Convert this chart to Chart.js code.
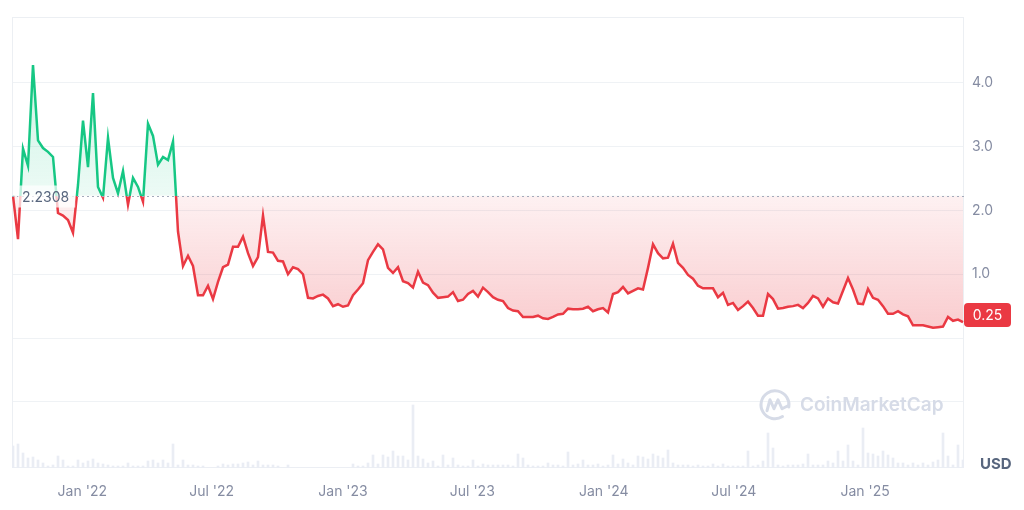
<!DOCTYPE html>
<html>
<head>
<meta charset="utf-8">
<script src="https://cdn.jsdelivr.net/npm/chart.js@4/dist/chart.umd.min.js"></script>
<style>
  html, body { margin: 0; padding: 0; background: #ffffff; }
  #wrap { width: 1024px; height: 510px; }
</style>
</head>
<body>
<div id="wrap"><canvas id="c" width="1024" height="510"></canvas></div>
<script>
// ---------- DATA ----------
const startDate = '2021-09-26';      // date of first weekly point
const stepDays = 7;                  // weekly samples
const baselinePrice = 2.2308;
const lastPriceLabel = '0.25';
const currencyLabel = 'USD';
const watermarkText = 'CoinMarketCap';

const prices = [
  2.2308,1.55,2.97,2.7,4.28,3.1,2.98,2.92,2.84,1.96,
  1.92,1.85,1.65,2.4,3.41,2.68,3.84,2.37,2.2,3.14,
  2.51,2.27,2.62,2.09,2.51,2.37,2.14,3.36,3.17,2.72,
  2.84,2.79,3.08,1.67,1.13,1.29,1.13,0.67,0.67,0.82,
  0.61,0.88,1.11,1.15,1.43,1.43,1.59,1.33,1.13,1.27,
  1.92,1.35,1.34,1.21,1.2,1.0,1.11,1.08,1.0,0.63,
  0.62,0.66,0.68,0.62,0.5,0.53,0.49,0.51,0.67,0.76,
  0.86,1.22,1.35,1.47,1.39,1.1,1.02,1.11,0.89,0.86,
  0.79,1.04,0.87,0.83,0.71,0.63,0.64,0.65,0.72,0.58,
  0.6,0.69,0.74,0.65,0.79,0.72,0.64,0.6,0.58,0.47,
  0.43,0.42,0.33,0.33,0.33,0.35,0.31,0.3,0.33,0.37,
  0.38,0.46,0.45,0.45,0.46,0.49,0.42,0.45,0.47,0.4,
  0.69,0.72,0.8,0.7,0.74,0.78,0.76,1.1,1.47,1.33,
  1.25,1.26,1.48,1.18,1.1,0.99,0.93,0.82,0.78,0.78,
  0.78,0.64,0.71,0.52,0.55,0.44,0.5,0.57,0.47,0.35,
  0.35,0.69,0.61,0.46,0.47,0.49,0.5,0.52,0.47,0.55,
  0.66,0.62,0.49,0.62,0.56,0.54,0.74,0.94,0.76,0.54,
  0.53,0.77,0.63,0.6,0.5,0.38,0.38,0.42,0.37,0.34,
  0.2,0.2,0.2,0.18,0.16,0.17,0.18,0.33,0.27,0.29,
  0.25
];

// relative trading volume (arbitrary units)
const volumes = [
  22,24,15,10,11,8,5,2,3,12,
  8,2,2,8,5,7,9,5,4,3,
  2,2,2,5,2,2,2,7,8,5,
  8,5,24,3,8,3,3,2,2,0,
  0,2,4,3,4,4,5,6,3,7,
  3,3,3,2,0,3,0,0,0,0,
  0,0,0,0,0,0,0,0,4,2,
  2,5,13,4,13,11,17,12,12,8,
  63,12,9,5,7,2,13,3,10,3,
  2,2,8,2,4,3,3,3,3,3,
  2,14,10,3,2,2,2,5,3,3,
  2,16,3,4,8,3,3,4,2,3,
  13,4,9,5,3,12,11,9,14,12,
  10,18,5,3,3,3,2,3,2,2,
  4,2,4,2,2,2,2,17,2,3,
  7,35,20,3,2,3,3,3,4,14,
  3,3,3,7,5,17,7,23,7,3,
  40,15,14,12,17,13,10,5,5,3,
  5,3,5,3,6,8,35,12,3,23,
  8
];

const tickDates  = ['2022-01-01','2022-07-01','2023-01-01','2023-07-01','2024-01-01','2024-07-01','2025-01-01'];
const tickLabels = ["Jan '22","Jul '22","Jan '23","Jul '23","Jan '24","Jul '24","Jan '25"];
const priceTickValues = [-1, 0, 1, 2, 3, 4];
const priceLabelValues = [1, 2, 3, 4];

// ---------- helpers ----------
const DAY = 86400000;
const t0 = Date.parse(startDate + 'T00:00:00Z');
const dayOf = s => Math.round((Date.parse(s + 'T00:00:00Z') - t0) / DAY);
const tickDays = tickDates.map(dayOf);
const pricePts = prices.map((v, i) => ({ x: i * stepDays, y: v }));
const volPts = volumes.map((v, i) => ({ x: i * stepDays, y: v }));
const lastDay = (prices.length - 1) * stepDays;

const GREEN = '#16c784';
const RED = '#ea3943';
const FONT = 'Inter, "Noto Sans", sans-serif';

function basePixel(chart) { return chart.scales.y.getPixelForValue(baselinePrice); }

function strokeColor(ctx) {
  const chart = ctx.chart, a = chart.chartArea;
  if (!a) return RED;
  const yb = basePixel(chart);
  const s = Math.min(Math.max((yb - a.top) / (a.bottom - a.top), 0), 1);
  const g = chart.ctx.createLinearGradient(0, a.top, 0, a.bottom);
  g.addColorStop(0, GREEN); g.addColorStop(s, GREEN);
  g.addColorStop(s, RED); g.addColorStop(1, RED);
  return g;
}

const fillPlugin = {
  id: 'splitFill',
  afterLayout(chart) {
    const c = chart.ctx;
    const yb = basePixel(chart);
    const yTop = chart.scales.y.getPixelForValue(Math.max(...prices));
    const y0 = chart.scales.y.getPixelForValue(0);
    const gUp = c.createLinearGradient(0, yb, 0, yTop);
    gUp.addColorStop(0, 'rgba(22,199,132,0.08)');
    gUp.addColorStop(1, 'rgba(22,199,132,0.22)');
    const gDn = c.createLinearGradient(0, yb, 0, y0);
    gDn.addColorStop(0, 'rgba(234,57,67,0.07)');
    gDn.addColorStop(1, 'rgba(234,57,67,0.27)');
    chart.data.datasets[0].fill = { target: { value: baselinePrice }, above: gUp, below: gDn };
  }
};

function roundRect(c, x, y, w, h, r) {
  c.beginPath();
  c.moveTo(x + r, y);
  c.lineTo(x + w - r, y); c.quadraticCurveTo(x + w, y, x + w, y + r);
  c.lineTo(x + w, y + h - r); c.quadraticCurveTo(x + w, y + h, x + w - r, y + h);
  c.lineTo(x + r, y + h); c.quadraticCurveTo(x, y + h, x, y + h - r);
  c.lineTo(x, y + r); c.quadraticCurveTo(x, y, x + r, y);
  c.closePath();
}

const decorPlugin = {
  id: 'decor',
  beforeDatasetsDraw(chart) {
    const c = chart.ctx, a = chart.chartArea;
    c.save();
    // chart frame
    c.strokeStyle = '#eceff3';
    c.lineWidth = 1;
    c.strokeRect(a.left + 0.5, a.top + 0.5, a.right - a.left - 1, a.bottom - a.top - 1);
    // watermark
    const wx = a.right - 189, wy = chart.scales.y.getPixelForValue(-1) + 3;
    c.strokeStyle = '#d6dbe7';
    c.lineWidth = 3;
    c.lineCap = 'round'; c.lineJoin = 'round';
    c.beginPath();
    c.arc(wx, wy, 14, 0.32 * Math.PI, 2.05 * Math.PI);
    c.stroke();
    c.beginPath();
    c.moveTo(wx - 8, wy + 6);
    c.lineTo(wx - 5, wy - 5);
    c.lineTo(wx - 1, wy + 4);
    c.lineTo(wx + 3, wy - 5);
    c.lineTo(wx + 7, wy + 4);
    c.lineTo(wx + 13, wy + 1);
    c.stroke();
    c.fillStyle = '#d6dbe7';
    c.font = '600 19px ' + FONT;
    c.textBaseline = 'middle';
    c.textAlign = 'left';
    c.fillText(watermarkText, wx + 25, wy + 1);
    c.restore();
  },
  afterDatasetsDraw(chart) {
    const c = chart.ctx, a = chart.chartArea;
    const yb = Math.round(basePixel(chart)) + 0.5;
    c.save();
    // dotted baseline
    c.strokeStyle = '#a4abbb';
    c.lineWidth = 1;
    c.setLineDash([2, 3]);
    c.beginPath(); c.moveTo(a.left, yb); c.lineTo(a.right, yb); c.stroke();
    c.setLineDash([]);
    // baseline label
    c.font = '14px ' + FONT;
    const txt = baselinePrice.toFixed(4);
    const tw = c.measureText(txt).width;
    c.fillStyle = 'rgba(255,255,255,0.72)';
    c.fillRect(a.left + 6, yb - 11, tw + 10, 22);
    c.fillStyle = '#58667e';
    c.textBaseline = 'middle';
    c.textAlign = 'left';
    c.fillText(txt, a.left + 10, yb + 1);
    // last price badge
    const yl = chart.scales.y.getPixelForValue(prices[prices.length - 1]) - 7;
    c.fillStyle = RED;
    roundRect(c, a.right, yl - 12, 47, 24, 4);
    c.fill();
    c.fillStyle = '#ffffff';
    c.font = '14px ' + FONT;
    c.textAlign = 'center';
    c.fillText(lastPriceLabel, a.right + 23.5, yl + 1);
    // currency
    c.fillStyle = '#58667e';
    c.font = 'bold 15px ' + FONT;
    c.textAlign = 'left';
    c.fillText(currencyLabel, a.right + 16, a.bottom - 4);
    c.restore();
  }
};

new Chart(document.getElementById('c'), {
  data: {
    datasets: [
      {
        type: 'line',
        data: pricePts,
        yAxisID: 'y',
        borderColor: strokeColor,
        borderWidth: 2.5,
        pointRadius: 0,
        tension: 0,
        fill: { target: { value: baselinePrice }, above: 'rgba(22,199,132,0.15)', below: 'rgba(234,57,67,0.15)' },
        order: 0
      },
      {
        type: 'bar',
        data: volPts,
        yAxisID: 'yv',
        backgroundColor: '#eaedf4',
        barThickness: 2,
        order: 1
      }
    ]
  },
  options: {
    responsive: false,
    animation: false,
    devicePixelRatio: 1,
    layout: { padding: { left: 12, top: 17, right: 0, bottom: 0 } },
    plugins: { legend: { display: false }, tooltip: { enabled: false } },
    scales: {
      x: {
        type: 'linear',
        offset: false,
        min: -1.4,
        max: lastDay + 1.4,
        grid: { display: false, drawTicks: false, offset: false },
        border: { display: false },
        afterBuildTicks: s => { s.ticks = tickDays.map(v => ({ value: v })); },
        afterFit: s => { s.height = 42; },
        ticks: {
          autoSkip: false, maxRotation: 0, padding: 15,
          color: '#858ca2',
          font: { family: FONT, size: 14 },
          callback: (v, i) => tickLabels[i]
        }
      },
      y: {
        position: 'right',
        min: -2.039,
        max: 5.035,
        grid: { color: '#eff2f5', drawTicks: false },
        border: { display: false },
        afterBuildTicks: s => { s.ticks = priceTickValues.map(v => ({ value: v })); },
        afterFit: s => { s.width = 60; },
        ticks: {
          padding: 8,
          color: '#858ca2',
          font: { family: FONT, size: 14 },
          callback: v => priceLabelValues.includes(v) ? v.toFixed(1) : ''
        }
      },
      yv: {
        display: false,
        min: 0,
        max: 451
      }
    }
  },
  plugins: [fillPlugin, decorPlugin]
});
</script>
</body>
</html>
